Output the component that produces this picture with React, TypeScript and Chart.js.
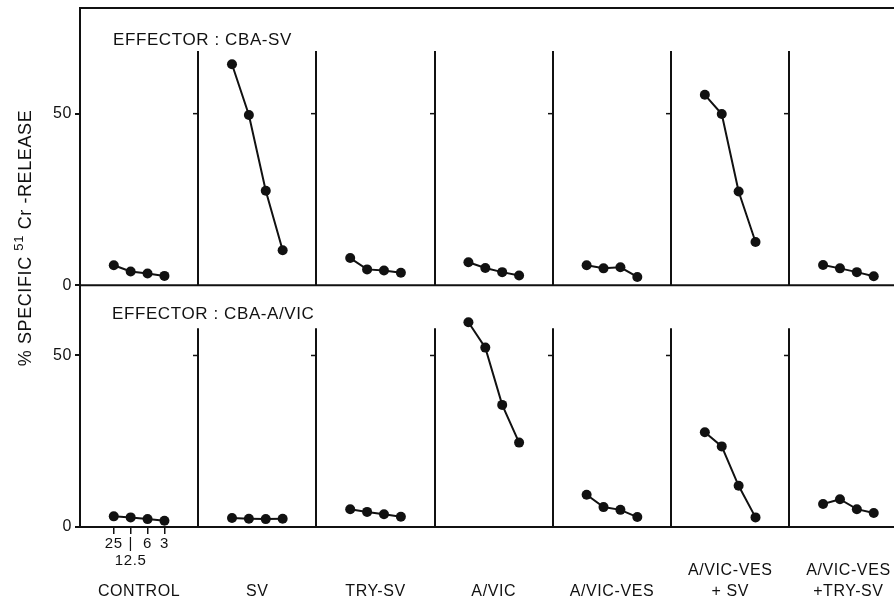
import React, { useEffect, useRef } from 'react';
import { Chart, registerables } from 'chart.js';

Chart.register(...registerables);

// ---- data ----
const groupNames = ['CONTROL', 'SV', 'TRY-SV', 'A/VIC', 'A/VIC-VES', 'A/VIC-VES\n+ SV', 'A/VIC-VES\n+TRY-SV'];
const dilutionLabels = ['25', '12.5', '6', '3'];
const yTickValues = [0, 50];
const effectorLabels = ['EFFECTOR : CBA-SV', 'EFFECTOR : CBA-A/VIC'];

// effector CBA-SV (upper panel), one row per target group, columns = dilutions 25,12.5,6,3
const cbaSvRelease = [
  [5.8, 4.0, 3.4, 2.7],
  [64.4, 49.6, 27.5, 10.2],
  [7.9, 4.6, 4.3, 3.6],
  [6.7, 5.0, 3.8, 2.8],
  [5.8, 4.9, 5.2, 2.4],
  [55.5, 49.9, 27.3, 12.6],
  [5.9, 4.9, 3.8, 2.6],
];

// effector CBA-A/VIC (lower panel)
const cbaAvicRelease = [
  [3.1, 2.8, 2.3, 1.8],
  [2.6, 2.4, 2.3, 2.4],
  [5.2, 4.4, 3.7, 3.0],
  [59.7, 52.3, 35.6, 24.6],
  [9.4, 5.8, 5.0, 2.9],
  [27.6, 23.5, 12.0, 2.8],
  [6.7, 8.1, 5.2, 4.1],
];

const topMax = 80.8;
const bottomMax = 70.5;

// ---- layout constants ----
const slotsPerGroup = 7;
const firstSlot = 2;
const xMax = 48.2;
const FONT = "'Liberation Sans', Arial, Helvetica, sans-serif";
const BLACK = '#111';
const SPACING = '0.6px';

const zeroPad = (s: any) => {
  s.paddingLeft = 0;
  s.paddingRight = 0;
  s.paddingTop = 0;
  s.paddingBottom = 0;
  s._computeLabelArea = () => undefined;
};

const panelPlugin = {
  id: 'panelPlugin',
  beforeUpdate(chart: any) {
    chart.ctx.letterSpacing = SPACING;
  },
  beforeDraw(chart: any) {
    chart.ctx.letterSpacing = SPACING;
  },
  afterDraw(chart: any) {
    const ctx = chart.ctx;
    const xs = chart.scales.x;
    const yT = chart.scales.yTop;
    const yB = chart.scales.yBottom;
    const area = chart.chartArea;
    ctx.save();
    ctx.letterSpacing = SPACING;
    ctx.strokeStyle = BLACK;
    ctx.fillStyle = BLACK;
    ctx.lineWidth = 2;
    // top frame line and upper panel base line
    ctx.beginPath();
    ctx.moveTo(area.left - 1, yT.top);
    ctx.lineTo(area.right, yT.top);
    ctx.moveTo(area.left, yT.getPixelForValue(0));
    ctx.lineTo(area.right, yT.getPixelForValue(0));
    ctx.stroke();
    // group separators with a tick at 50
    [yT, yB].forEach((ys: any) => {
      for (let g = 1; g < groupNames.length; g++) {
        const px = Math.round(xs.getPixelForValue(g * slotsPerGroup));
        const y0 = ys.getPixelForValue(0);
        const y1 = ys.top + 43;
        const y50 = ys.getPixelForValue(50);
        ctx.beginPath();
        ctx.lineWidth = 2;
        ctx.moveTo(px, y0);
        ctx.lineTo(px, y1);
        ctx.stroke();
        ctx.beginPath();
        ctx.lineWidth = 1.5;
        ctx.moveTo(px - 5, y50);
        ctx.lineTo(px, y50);
        ctx.stroke();
      }
    });
    // effector labels
    ctx.font = `17px ${FONT}`;
    ctx.textAlign = 'left';
    ctx.textBaseline = 'alphabetic';
    ctx.fillText(effectorLabels[0], area.left + 33, yT.top + 37);
    ctx.fillText(effectorLabels[1], area.left + 32, yB.top + 34);
    // y axis title with superscript
    const cx = 31;
    const cy = 238;
    ctx.translate(cx, cy);
    ctx.rotate(-Math.PI / 2);
    const big = `18px ${FONT}`;
    const small = `13px ${FONT}`;
    const parts: [string, string, number][] = [
      ['% SPECIFIC ', big, 0],
      ['51', small, -8],
      [' Cr -RELEASE', big, 0],
    ];
    let total = 0;
    parts.forEach(([t, f]) => {
      ctx.font = f;
      total += ctx.measureText(t).width;
    });
    let x = -total / 2;
    parts.forEach(([t, f, dy]) => {
      ctx.font = f;
      ctx.fillText(t, x, dy);
      x += ctx.measureText(t).width;
    });
    ctx.restore();
  },
};

function makeDatasets() {
  const ds: any[] = [];
  const add = (rows: number[][], axis: string) => {
    rows.forEach((vals, g) => {
      ds.push({
        data: vals.map((v, k) => ({ x: g * slotsPerGroup + firstSlot + k, y: v })),
        yAxisID: axis,
        xAxisID: 'x',
        borderColor: BLACK,
        backgroundColor: BLACK,
        borderWidth: 2,
        pointRadius: 5,
        pointBorderWidth: 0,
        pointBackgroundColor: BLACK,
        fill: false,
        tension: 0,
      });
    });
  };
  add(cbaSvRelease, 'yTop');
  add(cbaAvicRelease, 'yBottom');
  return ds;
}

const yScale = (max: number) => ({
  type: 'linear',
  position: 'left',
  stack: 'panels',
  stackWeight: max,
  min: 0,
  max,
  afterBuildTicks: (s: any) => {
    s.ticks = yTickValues.map((v) => ({ value: v }));
  },
  afterFit: (s: any) => {
    s.width = 80;
    zeroPad(s);
  },
  ticks: { color: BLACK, font: { size: 16, family: FONT }, padding: 3 },
  grid: { display: true, drawOnChartArea: false, drawTicks: true, tickLength: 5, lineWidth: 2, color: BLACK },
  border: { display: true, width: 2, color: BLACK },
});

export default function App() {
  const ref = useRef<HTMLCanvasElement>(null);
  useEffect(() => {
    if (!ref.current) return;
    const chart = new Chart(ref.current, {
      type: 'line',
      data: { datasets: makeDatasets() },
      plugins: [panelPlugin],
      options: {
        animation: false,
        responsive: true,
        maintainAspectRatio: false,
        layout: { autoPadding: false, padding: { top: 8, left: 0, right: 0, bottom: 0 } },
        plugins: { legend: { display: false }, tooltip: { enabled: false } },
        font: { family: FONT },
        scales: {
          x: {
            type: 'linear',
            position: 'bottom',
            weight: 0,
            min: 0,
            max: xMax,
            afterBuildTicks: (s: any) => {
              s.ticks = dilutionLabels.map((_, k) => ({ value: firstSlot + k }));
            },
            afterFit: (s: any) => {
              s.height = 40;
              zeroPad(s);
            },
            ticks: {
              autoSkip: false,
              maxRotation: 0,
              padding: 1,
              color: BLACK,
              font: { size: 15, family: FONT, lineHeight: 1.15 },
              callback: (v: any) => {
                const k = Math.round(v - firstSlot);
                const lab = dilutionLabels[k];
                return k === 1 ? ['|', lab] : lab;
              },
            },
            grid: { display: true, drawOnChartArea: false, drawTicks: true, tickLength: 7, lineWidth: 1.5, color: BLACK },
            border: { display: true, width: 2, color: BLACK },
          },
          x2: {
            type: 'linear',
            position: 'bottom',
            weight: 1,
            min: 0,
            max: xMax,
            afterBuildTicks: (s: any) => {
              s.ticks = groupNames.map((_, g) => ({ value: g * slotsPerGroup + slotsPerGroup / 2 }));
            },
            afterFit: (s: any) => {
              s.height = 37;
              zeroPad(s);
            },
            ticks: {
              autoSkip: false,
              maxRotation: 0,
              padding: -7,
              color: BLACK,
              font: { size: 16, family: FONT, lineHeight: 1.3 },
              callback: (v: any) => {
                const g = Math.round((v - slotsPerGroup / 2) / slotsPerGroup);
                const lines = groupNames[g].split('\n');
                return lines.length === 1 ? ['', lines[0]] : lines;
              },
            },
            grid: { display: false, drawTicks: false },
            border: { display: false },
          },
          yBottom: yScale(bottomMax) as any,
          yTop: yScale(topMax) as any,
        },
      } as any,
    });
    return () => chart.destroy();
  }, []);
  return (
    <div style={{ position: 'fixed', left: 0, top: 0, width: 894, height: 604, background: '#fff' }}>
      <canvas ref={ref} />
    </div>
  );
}
